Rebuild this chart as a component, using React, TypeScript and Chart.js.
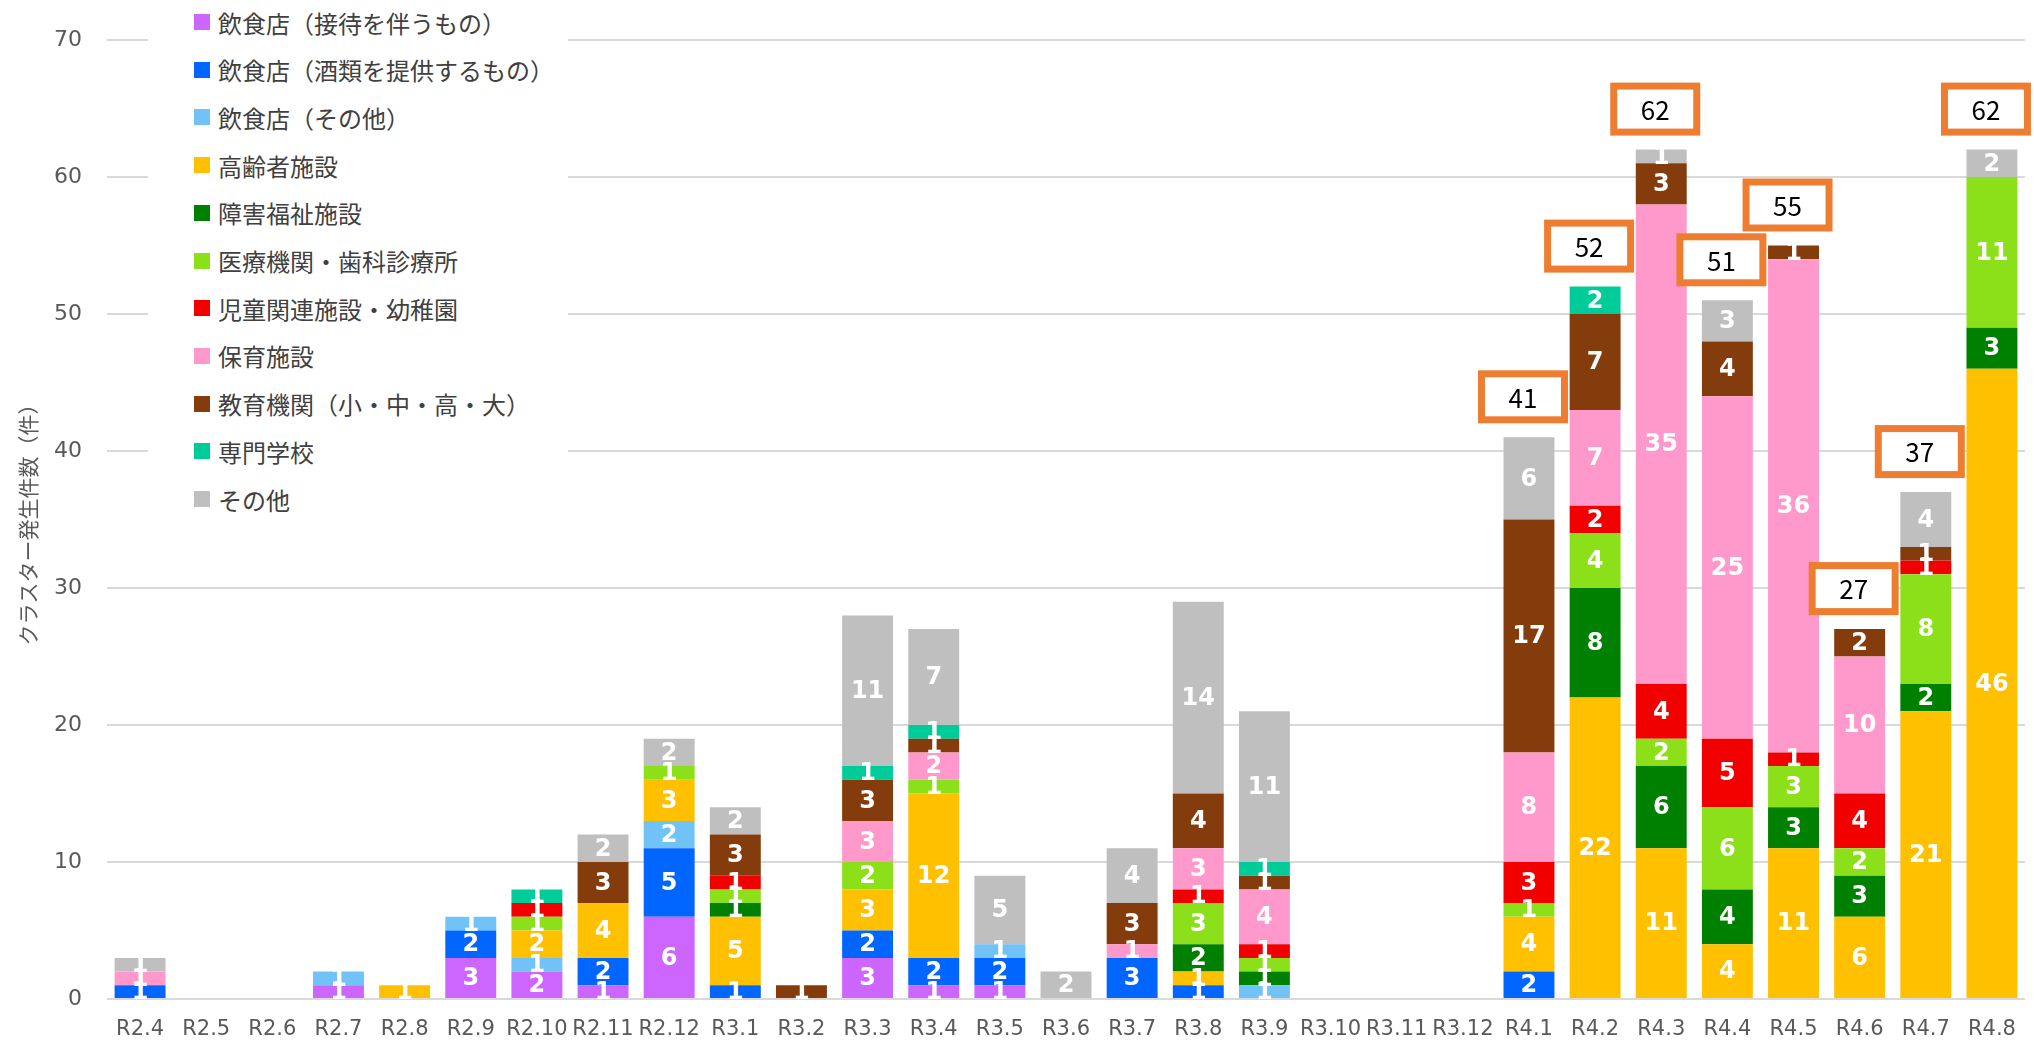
import React, { useEffect, useRef } from 'react';
import { Chart, registerables } from 'chart.js';

Chart.register(...registerables);

const months = [
  'R2.4', 'R2.5', 'R2.6', 'R2.7', 'R2.8', 'R2.9', 'R2.10', 'R2.11', 'R2.12',
  'R3.1', 'R3.2', 'R3.3', 'R3.4', 'R3.5', 'R3.6', 'R3.7', 'R3.8', 'R3.9', 'R3.10', 'R3.11', 'R3.12',
  'R4.1', 'R4.2', 'R4.3', 'R4.4', 'R4.5', 'R4.6', 'R4.7', 'R4.8',
];

const seriesNames = [
  '飲食店（接待を伴うもの）',
  '飲食店（酒類を提供するもの）',
  '飲食店（その他）',
  '高齢者施設',
  '障害福祉施設',
  '医療機関・歯科診療所',
  '児童関連施設・幼稚園',
  '保育施設',
  '教育機関（小・中・高・大）',
  '専門学校',
  'その他',
];

const seriesColors = [
  '#CC66FF', '#0066FF', '#71C2F7', '#FFC000', '#008000', '#8CE01A',
  '#F20000', '#FF99CC', '#843C0C', '#00CC99', '#BFBFBF',
];

const restaurantsHosting = [0, 0, 0, 1, 0, 3, 2, 1, 6, 0, 0, 3, 1, 1, 0, 0, 0, 0, 0, 0, 0, 0, 0, 0, 0, 0, 0, 0, 0];
const restaurantsAlcohol = [1, 0, 0, 0, 0, 2, 0, 2, 5, 1, 0, 2, 2, 2, 0, 3, 1, 0, 0, 0, 0, 2, 0, 0, 0, 0, 0, 0, 0];
const restaurantsOther = [0, 0, 0, 1, 0, 1, 1, 0, 2, 0, 0, 0, 0, 1, 0, 0, 0, 1, 0, 0, 0, 0, 0, 0, 0, 0, 0, 0, 0];
const elderlyFacilities = [0, 0, 0, 0, 1, 0, 2, 4, 3, 5, 0, 3, 12, 0, 0, 0, 1, 0, 0, 0, 0, 4, 22, 11, 4, 11, 6, 21, 46];
const disabilityFacilities = [0, 0, 0, 0, 0, 0, 0, 0, 0, 1, 0, 0, 0, 0, 0, 0, 2, 1, 0, 0, 0, 0, 8, 6, 4, 3, 3, 2, 3];
const medicalFacilities = [0, 0, 0, 0, 0, 0, 1, 0, 1, 1, 0, 2, 1, 0, 0, 0, 3, 1, 0, 0, 0, 1, 4, 2, 6, 3, 2, 8, 11];
const childFacilities = [0, 0, 0, 0, 0, 0, 1, 0, 0, 1, 0, 0, 0, 0, 0, 0, 1, 1, 0, 0, 0, 3, 2, 4, 5, 1, 4, 1, 0];
const nurseryFacilities = [1, 0, 0, 0, 0, 0, 0, 0, 0, 0, 0, 3, 2, 0, 0, 1, 3, 4, 0, 0, 0, 8, 7, 35, 25, 36, 10, 0, 0];
const schools = [0, 0, 0, 0, 0, 0, 0, 3, 0, 3, 1, 3, 1, 0, 0, 3, 4, 1, 0, 0, 0, 17, 7, 3, 4, 1, 2, 1, 0];
const vocationalSchools = [0, 0, 0, 0, 0, 0, 1, 0, 0, 0, 0, 1, 1, 0, 0, 0, 0, 1, 0, 0, 0, 0, 2, 0, 0, 0, 0, 0, 0];
const others = [1, 0, 0, 0, 0, 0, 0, 2, 2, 2, 0, 11, 7, 5, 2, 4, 14, 11, 0, 0, 0, 6, 0, 1, 3, 0, 0, 4, 2];

const seriesValues = [
  restaurantsHosting, restaurantsAlcohol, restaurantsOther, elderlyFacilities,
  disabilityFacilities, medicalFacilities, childFacilities, nurseryFacilities,
  schools, vocationalSchools, others,
];

const boxedMonths = ['R4.1', 'R4.2', 'R4.3', 'R4.4', 'R4.5', 'R4.6', 'R4.7', 'R4.8'];

const yTicks = [0, 10, 20, 30, 40, 50, 60, 70];
const yTitle = 'クラスター発生件数（件）';

const W = 2034;
const H = 1043;

const segmentLabels = {
  id: 'segmentLabels',
  afterDatasetsDraw(chart: any) {
    const ctx = chart.ctx;
    ctx.save();
    ctx.font = 'bold 24px "DejaVu Sans", "Noto Sans", sans-serif';
    ctx.fillStyle = '#FFFFFF';
    ctx.textAlign = 'center';
    ctx.textBaseline = 'middle';
    chart.data.datasets.forEach((ds: any, i: number) => {
      const meta = chart.getDatasetMeta(i);
      meta.data.forEach((bar: any, j: number) => {
        const v = ds.data[j];
        if (!v) return;
        const p = bar.getProps(['x', 'y', 'base'], true);
        ctx.fillText(String(v), p.x, (p.y + p.base) / 2 + 1);
      });
    });
    ctx.restore();
  },
};

const totalBoxes = {
  id: 'totalBoxes',
  afterDatasetsDraw(chart: any) {
    const ctx = chart.ctx;
    const xs = chart.scales.x;
    const ys = chart.scales.y;
    ctx.save();
    boxedMonths.forEach((m) => {
      const idx = months.indexOf(m);
      if (idx < 0) return;
      const total = seriesValues.reduce((s, arr) => s + (arr[idx] || 0), 0);
      const cx = xs.getPixelForValue(idx) - 6;
      const top = ys.getPixelForValue(total);
      const bw = 90;
      const bh = 53;
      const bottom = top - 14;
      const left = cx - bw / 2;
      const t = bottom - bh;
      ctx.fillStyle = '#ED7D31';
      ctx.fillRect(left, t, bw, bh);
      ctx.fillStyle = '#FFFFFF';
      ctx.fillRect(left + 7, t + 7, bw - 14, bh - 14);
      ctx.fillStyle = '#000000';
      ctx.font = '26px "Noto Sans CJK JP", sans-serif';
      ctx.textAlign = 'center';
      ctx.textBaseline = 'middle';
      ctx.fillText(String(total), cx, t + bh / 2 + 1);
    });
    ctx.restore();
  },
};

export default function App() {
  const canvasRef = useRef<HTMLCanvasElement | null>(null);

  useEffect(() => {
    const canvas = canvasRef.current;
    if (!canvas) return;
    const chart = new Chart(canvas, {
      type: 'bar',
      data: {
        labels: months,
        datasets: seriesNames.map((name, i) => ({
          label: name,
          data: seriesValues[i],
          backgroundColor: seriesColors[i],
          borderWidth: 0,
          categoryPercentage: 0.77,
          barPercentage: 1,
        })),
      },
      options: {
        animation: false,
        responsive: false,
        devicePixelRatio: 1,
        layout: { padding: { top: 40, right: 4, left: 0, bottom: 0 } },
        plugins: {
          legend: { display: false },
          tooltip: { enabled: false },
        },
        scales: {
          x: {
            stacked: true,
            grid: { display: false, drawTicks: false },
            border: { display: false },
            ticks: {
              color: '#595959',
              font: { family: '"DejaVu Sans", sans-serif', size: 21 },
              padding: 18,
              maxRotation: 0,
              autoSkip: false,
            },
            afterFit: (scale: any) => { scale.height = 44; },
          },
          y: {
            stacked: true,
            min: 0,
            max: 70,
            afterBuildTicks: (scale: any) => { scale.ticks = yTicks.map((v) => ({ value: v })); },
            grid: { color: '#D9D9D9', lineWidth: 2, drawTicks: false },
            border: { display: false },
            ticks: {
              color: '#595959',
              font: { family: '"DejaVu Sans", sans-serif', size: 22 },
              padding: 25,
            },
            title: {
              display: true,
              text: yTitle,
              color: '#595959',
              font: { family: '"Noto Sans CJK JP", sans-serif', size: 21 },
              padding: { top: 15, bottom: 0 },
            },
            afterFit: (scale: any) => { scale.width = 107; },
          },
        },
      },
      plugins: [segmentLabels, totalBoxes],
    });
    return () => chart.destroy();
  }, []);

  return (
    <div style={{ position: 'fixed', left: 0, top: 0, width: W, height: H, background: '#FFFFFF' }}>
      <canvas ref={canvasRef} width={W} height={H} style={{ display: 'block', width: W, height: H }} />
      <div
        style={{
          position: 'absolute',
          left: 148,
          top: 0,
          width: 420,
          height: 525,
          background: '#FFFFFF',
          fontFamily: '"Noto Sans CJK JP", sans-serif',
          fontSize: 24,
          color: '#404040',
        }}
      >
        {seriesNames.map((name, i) => (
          <div
            key={name}
            style={{
              position: 'absolute',
              left: 46,
              top: 22 + 47.7 * i - 16,
              height: 32,
              display: 'flex',
              alignItems: 'center',
              whiteSpace: 'nowrap',
            }}
          >
            <span style={{ display: 'inline-block', width: 16, height: 16, background: seriesColors[i], marginRight: 8 }} />
            <span>{name}</span>
          </div>
        ))}
      </div>
    </div>
  );
}
